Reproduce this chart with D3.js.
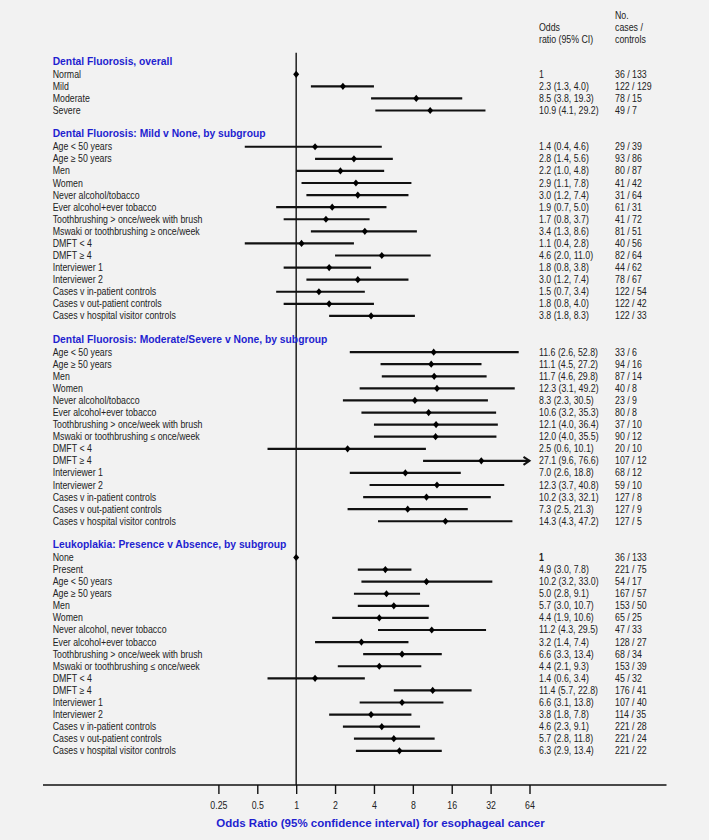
<!DOCTYPE html>
<html><head><meta charset="utf-8">
<script src="https://cdn.jsdelivr.net/npm/d3@7"></script>
<style>
html,body{margin:0;padding:0;background:#f2f2f2;}
svg{display:block;}
text{font-family:"Liberation Sans",Arial,Helvetica,sans-serif;fill:#222;}
</style></head>
<body>
<svg id="chart" width="709" height="840"></svg>
<script>
// ---------- DATA ----------
const sectionTitles = [
  "Dental Fluorosis, overall",
  "Dental Fluorosis: Mild v None, by subgroup",
  "Dental Fluorosis: Moderate/Severe v None, by subgroup",
  "Leukoplakia: Presence v Absence, by subgroup"
];
const rowLabels = [
  ["Normal","Mild","Moderate","Severe"],
  ["Age < 50 years","Age \u2265 50 years","Men","Women","Never alcohol/tobacco","Ever alcohol+ever tobacco",
   "Toothbrushing > once/week with brush","Mswaki or toothbrushing \u2265 once/week","DMFT < 4","DMFT \u2265 4",
   "Interviewer 1","Interviewer 2","Cases v in-patient controls","Cases v out-patient controls","Cases v hospital visitor controls"],
  ["Age < 50 years","Age \u2265 50 years","Men","Women","Never alcohol/tobacco","Ever alcohol+ever tobacco",
   "Toothbrushing > once/week with brush","Mswaki or toothbrushing \u2264 once/week","DMFT < 4","DMFT \u2265 4",
   "Interviewer 1","Interviewer 2","Cases v in-patient controls","Cases v out-patient controls","Cases v hospital visitor controls"],
  ["None","Present","Age < 50 years","Age \u2265 50 years","Men","Women","Never alcohol, never tobacco","Ever alcohol+ever tobacco",
   "Toothbrushing > once/week with brush","Mswaki or toothbrushing \u2264 once/week","DMFT < 4","DMFT \u2265 4",
   "Interviewer 1","Interviewer 2","Cases v in-patient controls","Cases v out-patient controls","Cases v hospital visitor controls"]
];
const oddsRatios = [
  [1, 2.3, 8.5, 10.9],
  [1.4, 2.8, 2.2, 2.9, 3.0, 1.9, 1.7, 3.4, 1.1, 4.6, 1.8, 3.0, 1.5, 1.8, 3.8],
  [11.6, 11.1, 11.7, 12.3, 8.3, 10.6, 12.1, 12.0, 2.5, 27.1, 7.0, 12.3, 10.2, 7.3, 14.3],
  [1, 4.9, 10.2, 5.0, 5.7, 4.4, 11.2, 3.2, 6.6, 4.4, 1.4, 11.4, 6.6, 3.8, 4.6, 5.7, 6.3]
];
const ciLower = [
  [null, 1.3, 3.8, 4.1],
  [0.4, 1.4, 1.0, 1.1, 1.2, 0.7, 0.8, 1.3, 0.4, 2.0, 0.8, 1.2, 0.7, 0.8, 1.8],
  [2.6, 4.5, 4.6, 3.1, 2.3, 3.2, 4.0, 4.0, 0.6, 9.6, 2.6, 3.7, 3.3, 2.5, 4.3],
  [null, 3.0, 3.2, 2.8, 3.0, 1.9, 4.3, 1.4, 3.3, 2.1, 0.6, 5.7, 3.1, 1.8, 2.3, 2.8, 2.9]
];
const ciUpper = [
  [null, 4.0, 19.3, 29.2],
  [4.6, 5.6, 4.8, 7.8, 7.4, 5.0, 3.7, 8.6, 2.8, 11.0, 3.8, 7.4, 3.4, 4.0, 8.3],
  [52.8, 27.2, 29.8, 49.2, 30.5, 35.3, 36.4, 35.5, 10.1, 76.6, 18.8, 40.8, 32.1, 21.3, 47.2],
  [null, 7.8, 33.0, 9.1, 10.7, 10.6, 29.5, 7.4, 13.4, 9.3, 3.4, 22.8, 13.8, 7.8, 9.1, 11.8, 13.4]
];
const casesControls = [
  ["36 / 133","122 / 129","78 / 15","49 / 7"],
  ["29 / 39","93 / 86","80 / 87","41 / 42","31 / 64","61 / 31","41 / 72","81 / 51","40 / 56","82 / 64","44 / 62","78 / 67","122 / 54","122 / 42","122 / 33"],
  ["33 / 6","94 / 16","87 / 14","40 / 8","23 / 9","80 / 8","37 / 10","90 / 12","20 / 10","107 / 12","68 / 12","59 / 10","127 / 8","127 / 9","127 / 5"],
  ["36 / 133","221 / 75","54 / 17","167 / 57","153 / 50","65 / 25","47 / 33","128 / 27","68 / 34","153 / 39","45 / 32","176 / 41","107 / 40","114 / 35","221 / 28","221 / 24","221 / 22"]
];
const tickValues = [0.25, 0.5, 1, 2, 4, 8, 16, 32, 64];
const tickLabels = ["0.25","0.5","1","2","4","8","16","32","64"];
const columnHeaders = [["Odds","ratio (95% CI)"],["No.","cases /","controls"]];
const axisTitle = "Odds Ratio (95% confidence interval) for esophageal cancer";

// ---------- LAYOUT ----------
const svg = d3.select("#chart");
const BLUE = "#1f1fd0";
const SX = 0.88; // horizontal squeeze of regular text
const xLabel = 52.7, xOR = 539, xCnt = 615;
const axisY = 785;

svg.append("rect").attr("width",709).attr("height",840).attr("fill","#f2f2f2");

const x = d3.scaleLog().base(2).domain([0.25, 64]).range([218.4, 529.5]);

// build line list
const lines = [];
let k = 0;
sectionTitles.forEach((t, s) => {
  lines.push({type:"header", text:t, idx:k++});
  rowLabels[s].forEach((lab, i) => {
    lines.push({type:"row", sec:s, i, label:lab, or:oddsRatios[s][i], lo:ciLower[s][i], hi:ciUpper[s][i],
                cnt:casesControls[s][i], idx:k++});
  });
  k++; // blank spacer
});
const y = d3.scaleLinear().domain([0, 57]).range([62.2, 750.8]);

function regText(g, str, px, py, opts={}) {
  const t = g.append("text")
    .attr("transform", `translate(${px},${py}) scale(${SX},1)`)
    .attr("dy","0.35em")
    .style("font-size", (opts.size||10)+"px")
    .text(str);
  if (opts.anchor) t.attr("text-anchor", opts.anchor);
  if (opts.bold) t.style("font-weight","bold");
  return t;
}

// column headers
const gh = svg.append("g");
columnHeaders[0].forEach((s,i)=> regText(gh, s, xOR, 27 + i*12));
columnHeaders[1].forEach((s,i)=> regText(gh, s, xCnt, 15 + i*12));

// reference line at OR = 1
svg.append("line").attr("x1",x(1)).attr("x2",x(1)).attr("y1",52.7).attr("y2",axisY)
  .attr("stroke","#111").attr("stroke-width",1.4);

// headers
svg.append("g").selectAll("text").data(lines.filter(d=>d.type==="header")).join("text")
  .attr("x", xLabel).attr("y", d => y(d.idx) - 0.8).attr("dy","0.35em")
  .style("font-size","10.3px").style("font-weight","bold").style("fill",BLUE)
  .text(d => d.text);

const rows = lines.filter(d=>d.type==="row");
const gl = svg.append("g");
rows.forEach(d => {
  const yy = y(d.idx);
  regText(gl, d.label, xLabel, yy);
  const isRef = d.lo === null;
  regText(gl, isRef ? "1" : `${d.or.toFixed(1)} (${d.lo.toFixed(1)}, ${d.hi.toFixed(1)})`, xOR, yy,
          {bold: isRef && d.sec === 3});
  regText(gl, d.cnt, xCnt, yy);
});

// CI lines
const gm = svg.append("g");
gm.selectAll("line.ci").data(rows.filter(d=>d.lo!==null)).join("line").attr("class","ci")
  .attr("x1", d => x(d.lo)).attr("x2", d => x(Math.min(d.hi, 64)))
  .attr("y1", d => y(d.idx)).attr("y2", d => y(d.idx))
  .attr("stroke","#111").attr("stroke-width",2.2);
// arrows for truncated CIs
gm.selectAll("path.arrow").data(rows.filter(d=>d.hi!==null && d.hi>64)).join("path").attr("class","arrow")
  .attr("d", d => { const xe = x(64), yy = y(d.idx); return `M${xe-6},${yy-4} L${xe},${yy} L${xe-6},${yy+4}`; })
  .attr("fill","none").attr("stroke","#111").attr("stroke-width",2);
// diamonds
gm.selectAll("path.pt").data(rows).join("path").attr("class","pt")
  .attr("transform", d => `translate(${x(d.or)},${y(d.idx)})`)
  .attr("d","M0,-3.6 L3,0 L0,3.6 L-3,0Z").attr("fill","#000");

// axis
svg.append("line").attr("x1",43).attr("x2",666.5).attr("y1",axisY).attr("y2",axisY)
  .attr("stroke","#111").attr("stroke-width",1.4);
const ax = svg.append("g").attr("transform",`translate(0,${axisY})`)
  .call(d3.axisBottom(x).tickValues(tickValues).tickSize(9).tickFormat((d,i)=>tickLabels[i]));
ax.select(".domain").remove();
ax.selectAll(".tick line").attr("stroke","#111").attr("stroke-width",1.4);
ax.selectAll(".tick text").each(function(d,i){
  const t = d3.select(this);
  t.attr("y", null).attr("dy", null)
   .attr("transform", `translate(0,20) scale(${SX},1)`)
   .attr("dy","0.35em")
   .style("font-size","10px").style("font-family",'"Liberation Sans",Arial,sans-serif').attr("fill","#222");
});

// axis title
svg.append("text").attr("x",380.5).attr("y",823).attr("dy","0.35em").attr("text-anchor","middle")
  .style("font-size","11.5px").style("font-weight","bold").style("fill",BLUE).text(axisTitle);
</script>
</body></html>
